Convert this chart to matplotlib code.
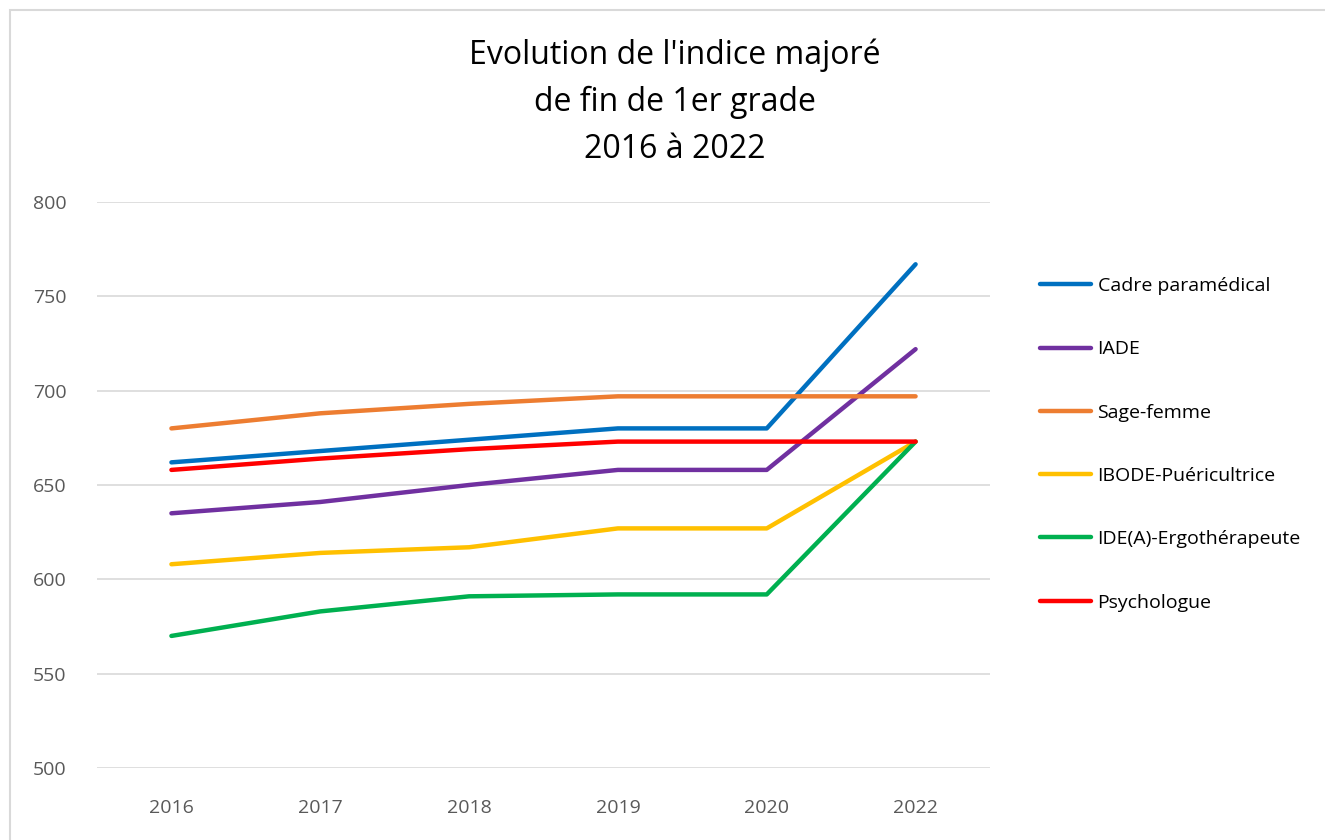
import matplotlib.pyplot as plt
from matplotlib.patches import Rectangle

years = ['2016', '2017', '2018', '2019', '2020', '2022']
cadre = [662, 668, 674, 680, 680, 767]
iade = [635, 641, 650, 658, 658, 722]
sage_femme = [680, 688, 693, 697, 697, 697]
ibode = [608, 614, 617, 627, 627, 673]
ide = [570, 583, 591, 592, 592, 673]
psycho = [658, 664, 669, 673, 673, 673]

series = [
    ('Cadre paramédical', cadre, '#0070C0'),
    ('IADE', iade, '#7030A0'),
    ('Sage-femme', sage_femme, '#ED7D31'),
    ('IBODE-Puéricultrice', ibode, '#FFC000'),
    ('IDE(A)-Ergothérapeute', ide, '#00B050'),
    ('Psychologue', psycho, '#FF0000'),
]

plt.rcParams['font.family'] = ['Open Sans', 'DejaVu Sans']

fig = plt.figure(figsize=(13.25, 8.4), dpi=100)
fig.patches.append(Rectangle((10 / 1325, -0.1), 1.2, 1 - 10 / 840 + 0.1,
                             transform=fig.transFigure, fill=False,
                             edgecolor='#D9D9D9', lw=1.5))
ax = fig.add_axes([97 / 1325, 1 - 768 / 840, 893 / 1325, 566 / 840])

x = range(len(years))
for name, vals, col in series:
    ax.plot(x, vals, color=col, lw=3.2, label=name, solid_capstyle='round')

ax.set_xlim(-0.5, len(years) - 0.5)
ax.set_ylim(500, 800)
ax.set_yticks(range(500, 801, 50))
ax.set_xticks(list(x))
ax.set_xticklabels(years)
ax.grid(axis='y', color='#D9D9D9', lw=1.2)
ax.set_axisbelow(True)
for s in ax.spines.values():
    s.set_visible(False)
ax.tick_params(length=0, labelsize=14, colors='#595959')
ax.tick_params(axis='x', pad=22)
ax.tick_params(axis='y', pad=22)

fig.text(675 / 1325, 1 - 102 / 840, "Evolution de l'indice majoré\nde fin de 1er grade\n2016 à 2022",
         ha='center', va='center', fontsize=23, linespacing=1.55, color='#000000')

ax.legend(loc='upper left', bbox_to_anchor=(1040 / 1325, 1 - 277 / 840),
          bbox_transform=fig.transFigure, frameon=False, fontsize=14,
          labelspacing=2.33, handlelength=2.6, handletextpad=0.36, borderpad=0,
          borderaxespad=0)

fig.savefig('out.png', dpi=100)
